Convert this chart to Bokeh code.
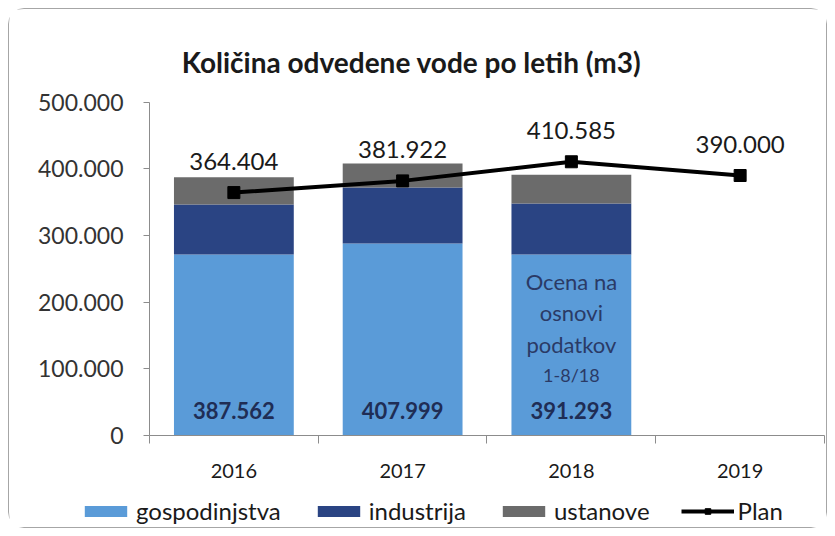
from bokeh.plotting import figure
from bokeh.models import (Range1d, FixedTicker, ColumnDataSource, Legend, LegendItem, Label)
from bokeh.core.properties import value
from bokeh.embed import file_html
from bokeh.resources import INLINE

title_text = "Količina odvedene vode po letih (m3)"
years = ["2016", "2017", "2018", "2019"]
gospodinjstva = [271500, 288000, 271500]
industrija = [75000, 84000, 76500]
ustanove = [41062, 35999, 43293]
totals = [387562, 407999, 391293]
total_labels = ["387.562", "407.999", "391.293"]
plan = [364404, 381922, 410585, 390000]
plan_labels = ["364.404", "381.922", "410.585", "390.000"]
y_ticks = [0, 100000, 200000, 300000, 400000, 500000]
y_tick_labels = ["0", "100.000", "200.000", "300.000", "400.000", "500.000"]
note_lines = ["Ocena na", "osnovi", "podatkov"]
note_small = "1-8/18"
note_year = "2018"

FONT = "Lato"

xc = [i + 0.5 for i in range(len(years))]
bar_x = xc[:len(totals)]

p = figure(width=819, height=520, output_backend="svg", toolbar_location=None,
           title_location=None,
           x_range=Range1d(-0.8296, 4.0237), y_range=Range1d(-141000, 639000),
           min_border_left=0, min_border_right=0, min_border_top=0,
           min_border_bottom=0)
p.margin = (8, 0, 0, 8)
p.outline_line_color = None
p.grid.grid_line_color = None
p.styles = {"border": "1px solid #a6a6a6", "border-radius": "16px", "box-sizing": "border-box"}

src = ColumnDataSource(dict(x=bar_x, gospodinjstva=gospodinjstva,
                            industrija=industrija, ustanove=ustanove,
                            lbl=total_labels))
stack = p.vbar_stack(["gospodinjstva", "industrija", "ustanove"], x="x", width=0.71,
                     color=["#5a9bd8", "#2a4483", "#6b6b6b"], source=src,
                     line_color=None)

p.text(x="x", y=0, text="lbl", source=src, text_align="center",
       text_baseline="middle", y_offset=-25, text_font=value(FONT),
       text_font_size="22px", text_font_style="bold", text_color="#1f2d55")

ni = years.index(note_year)
for k, line in enumerate(note_lines):
    p.text(x=[xc[ni]], y=[231000 - k * 47000], text=[line], text_align="center",
           text_baseline="middle", text_font=value(FONT), text_font_size="22px",
           text_color="#2a3a66")
p.text(x=[xc[ni]], y=[231000 - 3 * 47000 + 1000], text=[note_small], text_align="center",
       text_baseline="middle", text_font=value(FONT), text_font_size="18px",
       text_color="#2a3a66")

psrc = ColumnDataSource(dict(x=xc, y=plan, lbl=plan_labels))
pl = p.line("x", "y", source=psrc, line_color="black", line_width=4)
pm = p.scatter("x", "y", source=psrc, marker="square", size=12, color="black")
p.text(x="x", y="y", text="lbl", source=psrc, text_align="center",
       text_baseline="middle", y_offset=-31, text_font=value(FONT),
       text_font_size="24px", text_color="#1a1a1a")

# title
p.add_layout(Label(x=1.553, y=561000, text=title_text, text_align="center",
                   text_baseline="middle", text_font=FONT, text_font_size="28px",
                   text_font_style="bold", text_color="#1a1a1a"))

# axes
p.yaxis.fixed_location = 0
p.yaxis.bounds = (0, 500000)
p.yaxis.ticker = FixedTicker(ticks=y_ticks)
p.yaxis.major_label_overrides = {t: l for t, l in zip(y_ticks, y_tick_labels)}
p.yaxis.minor_tick_line_color = None
p.yaxis.major_tick_in = 0
p.yaxis.major_tick_out = 6
p.yaxis.axis_line_color = "#8c8c8c"
p.yaxis.major_tick_line_color = "#8c8c8c"
p.yaxis.major_label_text_font = FONT
p.yaxis.major_label_text_font_size = "23px"
p.yaxis.major_label_text_color = "#333333"
p.yaxis.major_label_standoff = 20

p.xaxis.fixed_location = 0
p.xaxis.bounds = (0, len(years))
p.xaxis.ticker = FixedTicker(ticks=xc, minor_ticks=list(range(len(years) + 1)))
p.xaxis.major_label_overrides = {x: y for x, y in zip(xc, years)}
p.xaxis.major_tick_line_color = None
p.xaxis.major_tick_out = 8
p.xaxis.minor_tick_in = 0
p.xaxis.minor_tick_out = 8
p.xaxis.minor_tick_line_color = "#8c8c8c"
p.xaxis.axis_line_color = "#8c8c8c"
p.xaxis.major_label_text_font = FONT
p.xaxis.major_label_text_font_size = "20px"
p.xaxis.major_label_text_color = "#1a1a1a"
p.xaxis.major_label_standoff = 20

legend = Legend(items=[
    LegendItem(label="gospodinjstva", renderers=[stack[0]]),
    LegendItem(label="industrija", renderers=[stack[1]]),
    LegendItem(label="ustanove", renderers=[stack[2]]),
    LegendItem(label="Plan", renderers=[pl, pm]),
], orientation="horizontal", location=(70, 4), background_fill_alpha=0,
    border_line_color=None, label_text_font=FONT, label_text_font_size="24px",
    label_text_color="#1a1a1a", glyph_width=53, glyph_height=14, spacing=31,
    label_standoff=4, padding=0, margin=0)
p.add_layout(legend)

open("out.html", "w").write(file_html(p, INLINE))
